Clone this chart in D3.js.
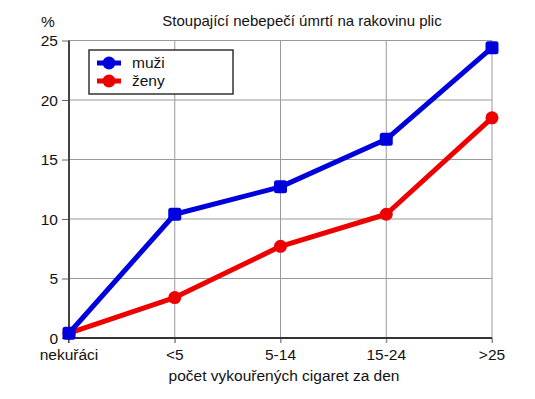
<!DOCTYPE html>
<html>
<head>
<meta charset="utf-8">
<script src="https://cdn.jsdelivr.net/npm/d3@7/dist/d3.min.js"></script>
<style>
  html, body { margin: 0; padding: 0; background: #fff; overflow: hidden; }
  svg { display: block; }
  text { font-family: "Liberation Sans", Arial, sans-serif; fill: #111; }
</style>
</head>
<body>
<svg id="chart"></svg>
<script>
const categories = ["nekuřáci", "<5", "5-14", "15-24", ">25"];
const muzi = [0.4, 10.4, 12.7, 16.7, 24.4];
const zeny = [0.4, 3.4, 7.7, 10.4, 18.5];
const yTicks = [0, 5, 10, 15, 20, 25];

const width = 535, height = 399;
const margin = { top: 40.5, right: 43, bottom: 61, left: 69 };
const innerWidth = width - margin.left - margin.right;
const innerHeight = height - margin.top - margin.bottom;

const svg = d3.select("#chart").attr("width", width).attr("height", height);
const g = svg.append("g").attr("transform", `translate(${margin.left},${margin.top})`);

const x = d3.scalePoint().domain(categories).range([0, innerWidth]);
const y = d3.scaleLinear().domain([0, 25]).range([innerHeight, 0]);

// grid
g.selectAll(".hgrid").data(yTicks.filter(d => d > 0)).enter().append("line")
  .attr("x1", 0).attr("x2", innerWidth)
  .attr("y1", d => y(d)).attr("y2", d => y(d))
  .attr("stroke", "#999").attr("stroke-width", 1);
g.selectAll(".vgrid").data(categories.slice(1)).enter().append("line")
  .attr("x1", d => x(d)).attr("x2", d => x(d))
  .attr("y1", 0).attr("y2", innerHeight + 5)
  .attr("stroke", "#999").attr("stroke-width", 1);

// axes: tick marks from d3 axes, labels drawn as plain text
const yAxis = g.append("g").call(d3.axisLeft(y).tickValues(yTicks).tickSize(7).tickFormat(""));
yAxis.select(".domain").remove();
yAxis.selectAll(".tick line").attr("stroke", "#666");
g.selectAll(".ylab").data(yTicks).enter().append("text")
  .attr("x", -11).attr("y", d => y(d) + 5.5)
  .attr("text-anchor", "end").style("font-size", "15.5px")
  .text(d => d);
g.append("line").attr("x1", 0).attr("x2", 0).attr("y1", 0).attr("y2", innerHeight + 5)
  .attr("stroke", "#444").attr("stroke-width", 2);

const xAxis = g.append("g").attr("transform", `translate(0,${innerHeight})`)
  .call(d3.axisBottom(x).tickSize(5).tickFormat(""));
xAxis.select(".domain").remove();
xAxis.selectAll(".tick line").attr("stroke", "#888");
g.selectAll(".xlab").data(categories).enter().append("text")
  .attr("x", d => x(d)).attr("y", innerHeight + 22)
  .attr("text-anchor", "middle").style("font-size", "15.5px")
  .text(d => d);
g.append("line").attr("x1", 0).attr("x2", innerWidth).attr("y1", innerHeight).attr("y2", innerHeight)
  .attr("stroke", "#333").attr("stroke-width", 2);

// labels
svg.append("text").text("%").attr("x", 48).attr("y", 27)
  .attr("text-anchor", "middle").style("font-size", "15.5px");
svg.append("text").text("Stoupající nebepečí úmrtí na rakovinu plic")
  .attr("x", 302).attr("y", 26).attr("text-anchor", "middle").style("font-size", "15px");
svg.append("text").text("počet vykouřených cigaret za den")
  .attr("x", 284).attr("y", 381).attr("text-anchor", "middle").style("font-size", "15.5px");

// series
const series = [
  { name: "ženy", values: zeny, color: "#ee0000", shape: "circle" },
  { name: "muži", values: muzi, color: "#0000dd", shape: "square" }
];
const line = d3.line().x((d, i) => x(categories[i])).y(d => y(d));

series.forEach(s => {
  g.append("path").datum(s.values).attr("d", line)
    .attr("fill", "none").attr("stroke", s.color).attr("stroke-width", 5)
    .attr("stroke-linejoin", "round");
  if (s.shape === "circle") {
    g.selectAll(null).data(s.values).enter().append("circle")
      .attr("cx", (d, i) => x(categories[i])).attr("cy", d => y(d))
      .attr("r", 6.5).attr("fill", s.color);
  } else {
    g.selectAll(null).data(s.values).enter().append("rect")
      .attr("x", (d, i) => x(categories[i]) - 6.5).attr("y", d => y(d) - 6.5)
      .attr("width", 13).attr("height", 13).attr("rx", 2.5)
      .attr("fill", s.color);
  }
});

// legend
const legend = svg.append("g").attr("transform", "translate(89,50)");
legend.append("rect").attr("width", 144).attr("height", 44)
  .attr("fill", "#fff").attr("stroke", "#333").attr("stroke-width", 1.5);
[series[1], series[0]].forEach((s, i) => {
  const row = legend.append("g").attr("transform", `translate(0,${13 + i * 18})`);
  row.append("line").attr("x1", 8).attr("x2", 32).attr("stroke", s.color).attr("stroke-width", 5);
  row.append("circle").attr("cx", 20).attr("r", 6.5).attr("fill", s.color);
  row.append("text").text(s.name).attr("x", 43).attr("y", 5).style("font-size", "15.5px");
});
</script>
</body>
</html>
